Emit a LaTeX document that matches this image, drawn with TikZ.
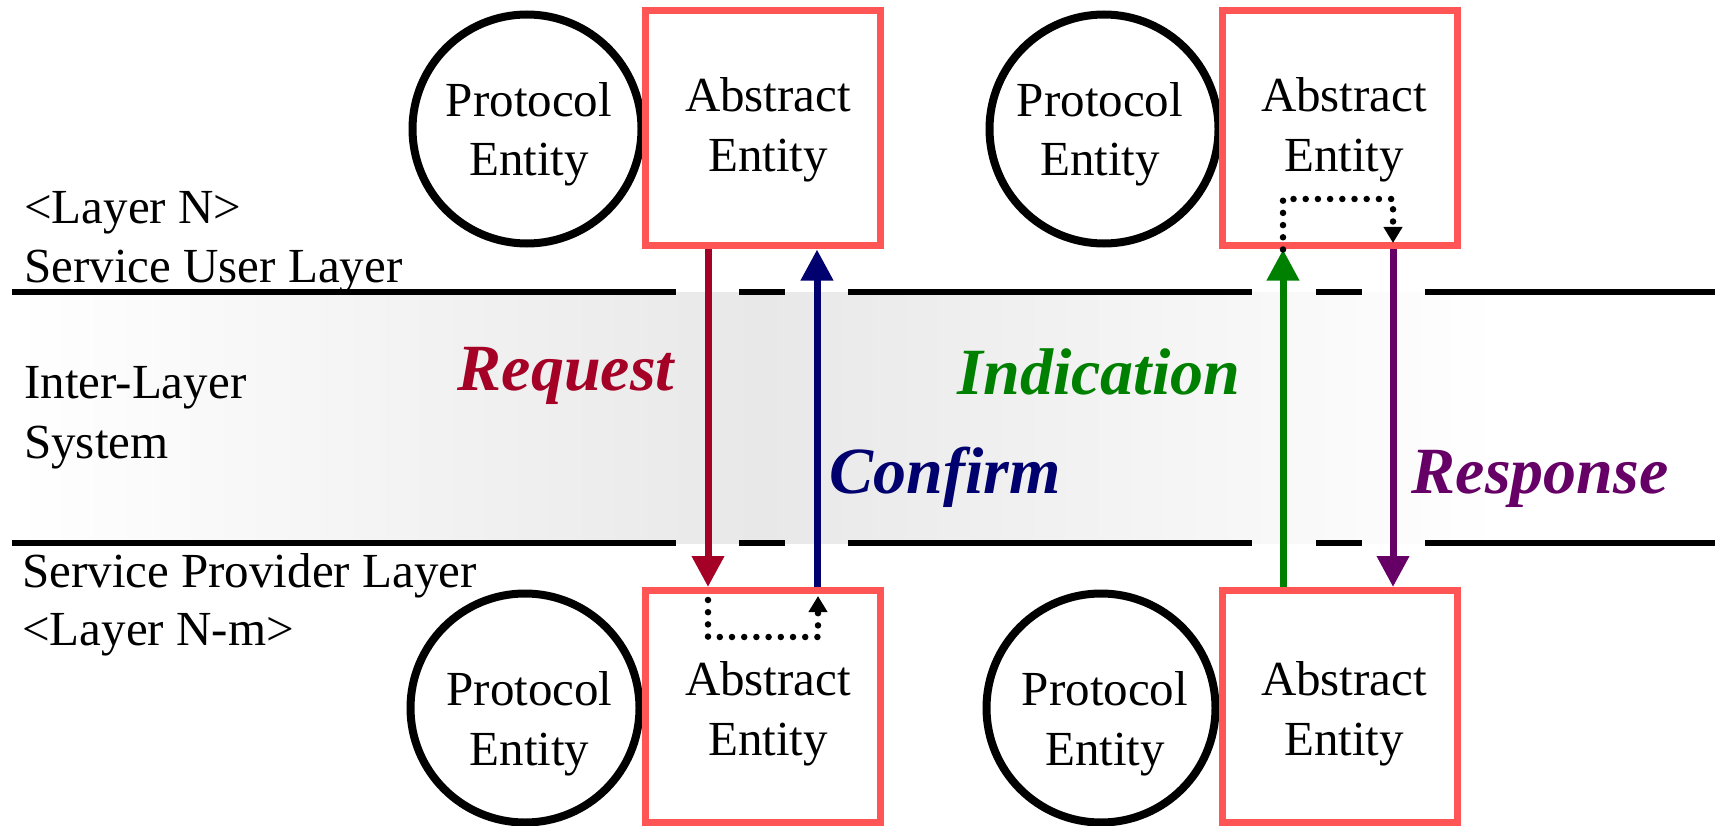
\documentclass[tikz,border=0pt]{standalone}
\usepackage{fontspec}
\setmainfont{Liberation Serif}
\usetikzlibrary{arrows.meta}

\definecolor{boxred}{RGB}{255,85,85}
\definecolor{reqred}{RGB}{165,0,38}
\definecolor{cnfblue}{RGB}{0,0,110}
\definecolor{indgreen}{RGB}{0,128,0}
\definecolor{resppurple}{RGB}{102,0,102}
\definecolor{bandgray}{RGB}{232,232,232}

\tikzset{
  entcircle/.style={circle, draw=black, line width=8pt, minimum size=229pt, inner sep=0pt},
  entbox/.style={rectangle, draw=boxred, line width=7pt, minimum width=235pt, minimum height=235pt, inner sep=0pt},
  plain/.style={anchor=base, inner sep=0pt, font=\fontsize{49}{58}\selectfont},
  sidelbl/.style={plain, anchor=base west},
  prim/.style={anchor=base, inner sep=0pt, font=\fontsize{66}{72}\selectfont\bfseries\itshape},
  layerline/.style={line width=6.5pt, black},
  primarrow/.style={line width=7pt, -{Triangle[length=31pt,width=31pt]}},
  dotlink/.style={black, line width=6.5pt, line cap=round, dash pattern=on 0pt off 12.2pt,
                  -{Triangle[length=16pt,width=18pt]}},
}

\begin{document}
\begin{tikzpicture}[x=1pt, y=-1pt]
\useasboundingbox (0,0) rectangle (1715,826);

% inter-layer band
\shade[left color=white, right color=bandgray] (12,292) rectangle (760,543);
\shade[left color=bandgray, right color=white] (760,292) rectangle (1500,543);

% layer boundaries, broken where the primitives cross
\foreach \y in {292,543}{
  \draw[layerline] (12,\y) -- (676,\y)  (739,\y) -- (785,\y)  (848,\y) -- (1252,\y)
                   (1316,\y) -- (1362,\y)  (1425,\y) -- (1715,\y);
}

% entities of layer N
\node[entcircle] (pu1) at (527,129) {};
\node[entbox] (au1) at (762.5,128.5) {};
\node[entcircle] (pu2) at (1104,129) {};
\node[entbox] (au2) at (1339.5,128.5) {};

% entities of layer N-m
\node[entcircle] (pl1) at (525,708) {};
\node[entbox, minimum height=232pt] (al1) at (762.5,706.5) {};
\node[entcircle] (pl2) at (1101,708) {};
\node[entbox, minimum height=232pt] (al2) at (1339.5,706.5) {};

% entity captions
\node[plain] (tpu1a) at (529,117) {Protocol};
\node[plain] (tpu1b) at (529,176) {Entity};
\node[plain] (tau1a) at (768,112) {Abstract};
\node[plain] (tau1b) at (768,172) {Entity};
\node[plain] (tpu2a) at (1100,117) {Protocol};
\node[plain] (tpu2b) at (1100,176) {Entity};
\node[plain] (tau2a) at (1344,112) {Abstract};
\node[plain] (tau2b) at (1344,172) {Entity};
\node[plain] (tpl1a) at (529.5,705) {Protocol};
\node[plain] (tpl1b) at (529.5,765) {Entity};
\node[plain] (tal1a) at (768,695) {Abstract};
\node[plain] (tal1b) at (768,755) {Entity};
\node[plain] (tpl2a) at (1105,705) {Protocol};
\node[plain] (tpl2b) at (1105,765) {Entity};
\node[plain] (tal2a) at (1344,695) {Abstract};
\node[plain] (tal2b) at (1344,755) {Entity};

% layer names
\node[sidelbl] (ln1) at (24,224) {<Layer N>};
\node[sidelbl] (ln2) at (24,282) {Service User Layer};
\node[sidelbl] (il1) at (24,398) {Inter-Layer};
\node[sidelbl] (il2) at (24,458) {System};
\node[sidelbl] (lm1) at (22,587) {Service Provider Layer};
\node[sidelbl] (lm2) at (22,645) {<Layer N-m>};

% x positions of the four primitives
\coordinate (xreq) at (708,0);
\coordinate (xcnf) at (817,0);
\coordinate (xind) at (1283,0);
\coordinate (xrsp) at (1393,0);

% service primitives
\draw[primarrow, reqred] (au1.south -| xreq) -- (al1.north -| xreq);
\draw[primarrow, cnfblue] (al1.north -| xcnf) -- (au1.south -| xcnf);
\draw[primarrow, indgreen] (al2.north -| xind) -- (au2.south -| xind);
\draw[primarrow, resppurple] (au2.south -| xrsp) -- (al2.north -| xrsp);

% local hand-over inside the abstract entities
\coordinate (d1a) at (708,600);
\coordinate (d1b) at (708,637);
\coordinate (d1c) at (818,637);
\coordinate (d1d) at (818,596);
\draw[dotlink] (d1a) -- (d1b) -- (d1c) -- (d1d);

\coordinate (d2b) at (1283,199);
\coordinate (d2c) at (1393,199);
\coordinate (d2d) at (1393,243);
\draw[dotlink] (au2.south -| xind) -- (d2b) -- (d2c) -- (d2d);

% primitive names
\node[prim, reqred] (lreq) at (566,390) {Request};
\node[prim, cnfblue] (lcnf) at (945,493) {Confirm};
\node[prim, indgreen] (lind) at (1099,394) {Indication};
\node[prim, resppurple] (lrsp) at (1540,493) {Response};
\end{tikzpicture}
\end{document}
